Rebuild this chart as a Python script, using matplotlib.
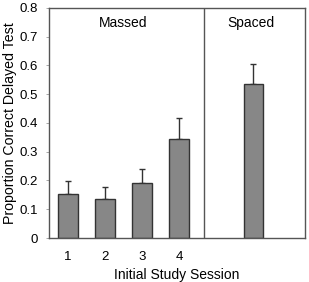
import matplotlib
matplotlib.use("Agg")
import matplotlib.pyplot as plt
import numpy as np

plt.rcParams["font.family"] = ["Liberation Sans", "DejaVu Sans"]

# values
massed_sessions = ["1", "2", "3", "4"]
massed_means = [0.153, 0.137, 0.192, 0.344]
massed_err = [0.044, 0.041, 0.048, 0.073]
spaced_mean = [0.535]
spaced_err = [0.069]
y_ticks = [0, 0.1, 0.2, 0.3, 0.4, 0.5, 0.6, 0.7, 0.8]
y_tick_labels = ["0", "0.1", "0.2", "0.3", "0.4", "0.5", "0.6", "0.7", "0.8"]

fig = plt.figure(figsize=(3.09, 2.82), dpi=100)
ax = fig.add_axes([0.159, 0.156, 0.828, 0.816])

bar_color = "#878787"
edge = "#333333"
xm = np.arange(1, 5)
xs = np.array([6])

ax.bar(xm, massed_means, width=0.52, color=bar_color, edgecolor=edge, linewidth=1, zorder=2)
ax.bar(xs, spaced_mean, width=0.52, color=bar_color, edgecolor=edge, linewidth=1, zorder=2)
ax.errorbar(xm, massed_means, yerr=[np.zeros(4), massed_err], fmt="none",
            ecolor=edge, elinewidth=1, capsize=2.5, capthick=1, zorder=1)
ax.errorbar(xs, spaced_mean, yerr=[np.zeros(1), spaced_err], fmt="none",
            ecolor=edge, elinewidth=1, capsize=2.5, capthick=1, zorder=1)

ax.axvline(4.68, color="#555555", linewidth=1)

ax.set_xlim(0.49, 7.4)
ax.set_ylim(0, 0.8)
ax.set_yticks(y_ticks)
ax.set_yticklabels(y_tick_labels)
ax.set_xticks(xm)
ax.set_xticklabels(massed_sessions)
ax.tick_params(axis="x", length=0, labelsize=9.5, pad=9)
ax.tick_params(axis="y", length=2, width=0.6, color="#999999", labelsize=9.5, pad=6)

for s in ax.spines.values():
    s.set_color("#555555")
    s.set_linewidth(1)

ax.text(2.5, 0.747, "Massed", ha="center", va="center", fontsize=10)
ax.text(5.95, 0.747, "Spaced", ha="center", va="center", fontsize=10)

ax.set_xlabel("Initial Study Session", fontsize=10, labelpad=4)
ax.set_ylabel("Proportion Correct Delayed Test", fontsize=10.2, labelpad=2)

fig.savefig("out.png", dpi=100)
